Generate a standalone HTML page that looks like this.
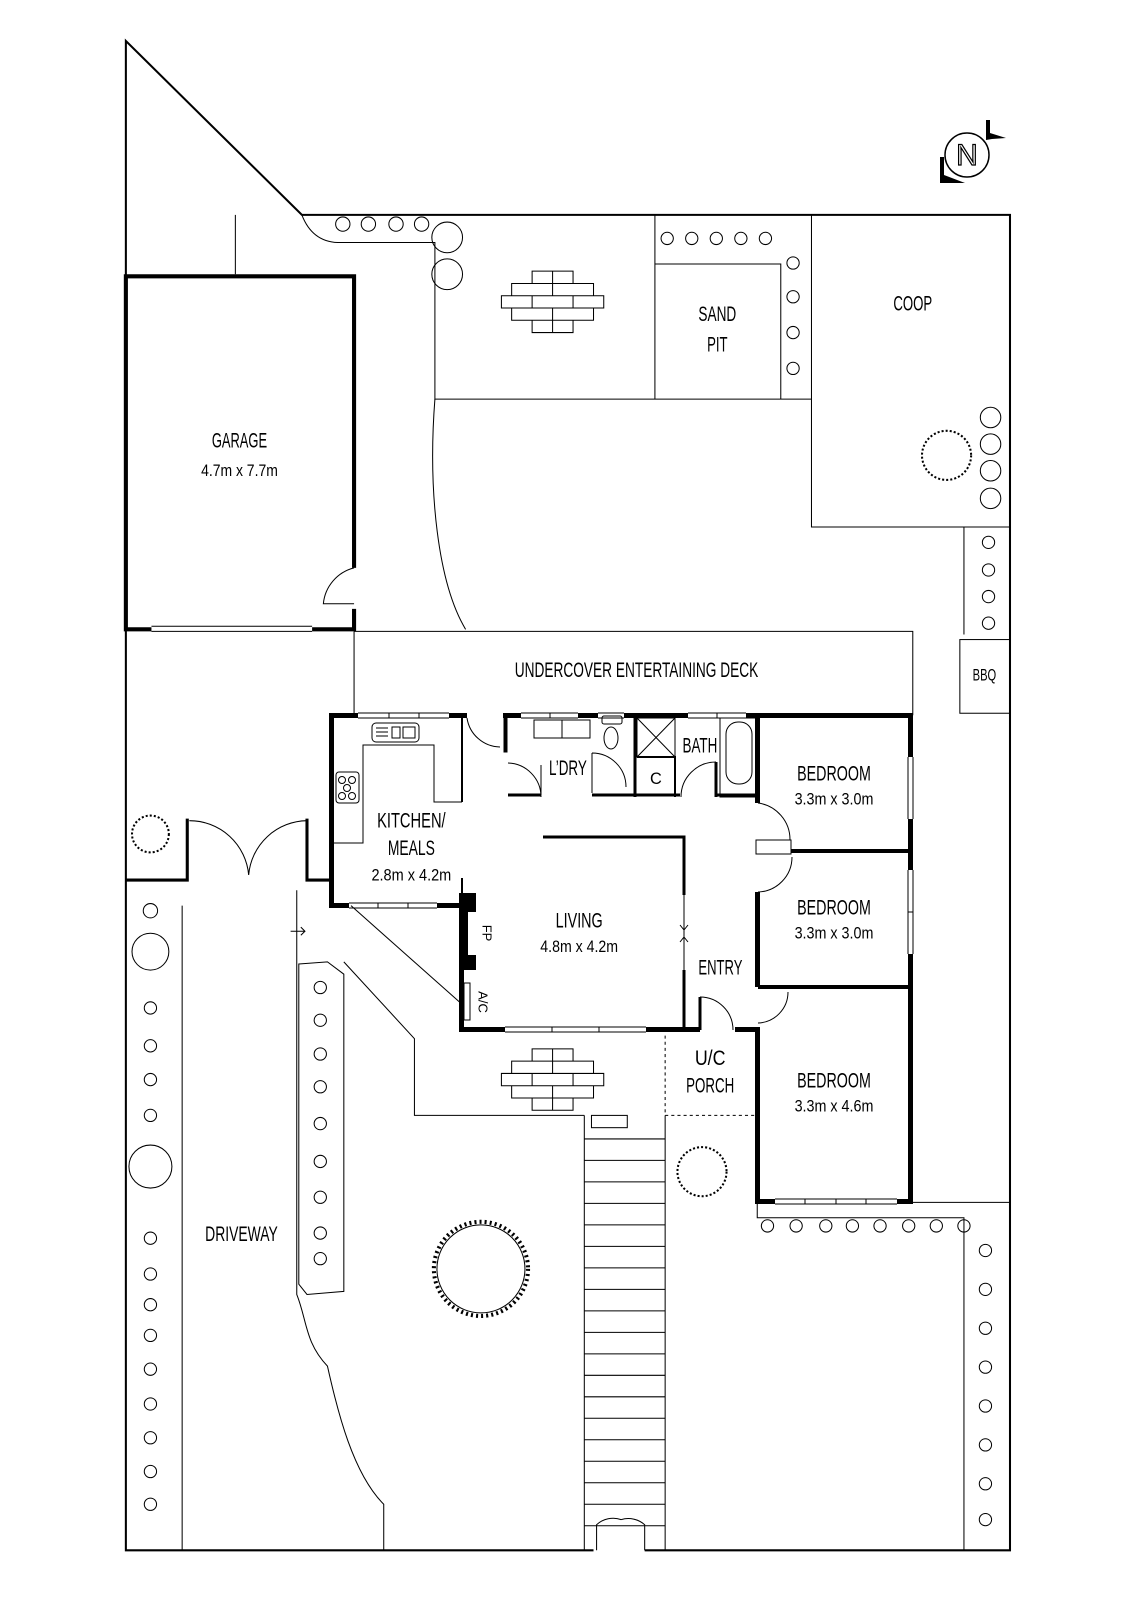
<!DOCTYPE html>
<html><head><meta charset="utf-8"><style>
html,body{margin:0;padding:0;background:#fff}
svg{display:block}
text{font-family:"Liberation Sans Narrow","Liberation Sans",sans-serif;fill:#000;text-anchor:middle;dominant-baseline:middle}
.l{font-size:21px}
.d{font-size:16px}
</style></head><body>
<svg width="1131" height="1600" viewBox="0 0 1131 1600" xmlns="http://www.w3.org/2000/svg">
<rect width="1131" height="1600" fill="#fff"/>
<g transform="scale(1.0233)" fill="none" stroke="#000" stroke-width="1">
<path d="M580,1515 L123,1515 L123,40 L295,210 L987,210 L987,1515 L630,1515" stroke-width="2"/>
<path d="M583,1515 L583,1490 A24,24 0 0 1 607,1485 M630,1515 L630,1490 A24,24 0 0 0 607,1485" />
<path d="M305,615 L346,615 L346,595 M346,555 L346,270 L123,270 L123,615 L148,615" stroke-width="4"/>
<path d="M148,612 L305,612 M148,617 L305,617"/>
<path d="M346,555 A40,40 0 0 0 316,590 L346,590"/>
<path d="M230,210 L230,268"/>
<path d="M295,210 Q305,236 330,237 L425,237 L425,390 L793,390"/>
<path d="M640,210 L640,390 M640,258 L763,258 L763,390"/>
<path d="M793,210 L793,515 L987,515 M942,515 L942,620"/>
<rect x="938" y="625" width="49" height="72"/>
<path d="M425,390 C418,480 428,570 455,615"/>
<path d="M346,617 L892,617 L892,699 M346,617 L346,699"/>
<path d="M123,860 L183,860 L183,800 M300,800 L300,860 L323,860" stroke-width="3"/>
<path d="M185,802 A58,58 0 0 1 243,855 A58,58 0 0 1 300,802"/>
<path d="M178,885 L178,1515"/>
<path d="M290,870 L290,1265 C300,1290 298,1312 320,1335 C330,1380 345,1440 375,1470 L375,1515"/>
<path d="M284,910 L298,910 M294,906 L298,910 L294,914"/>
<path d="M292,942 L320,940 L336,952 L336,1262 L300,1265 L292,1255 Z"/>
<path d="M343,885 L450,980"/>
<path d="M336,940 L405,1015 L405,1090 L571,1090" />
<path d="M650,1012 L650,1090 L740,1090" stroke-dasharray="3,3"/>
<path d="M571,1090 L571,1515 M650,1090 L650,1515"/>
<rect x="578" y="1090" width="35" height="12"/>
<path d="M571,1113 H650 M571,1134 H650 M571,1155 H650 M571,1176 H650 M571,1197 H650 M571,1218 H650 M571,1239 H650 M571,1260 H650 M571,1281 H650 M571,1302 H650 M571,1323 H650 M571,1344 H650 M571,1365 H650 M571,1386 H650 M571,1407 H650 M571,1428 H650 M571,1449 H650 M571,1470 H650 M571,1491 H650"/>
<path d="M740,1175 L740,1190 L942,1190 L942,1515"/>
<path d="M890,1175 L987,1175"/>
<g>
<circle cx="335" cy="219" r="7"/><circle cx="360" cy="219" r="7"/><circle cx="387" cy="219" r="7"/><circle cx="412" cy="219" r="7"/>
<circle cx="437" cy="232" r="15"/><circle cx="437" cy="268" r="15"/>
<circle cx="652" cy="233" r="6"/><circle cx="676" cy="233" r="6"/><circle cx="700" cy="233" r="6"/><circle cx="724" cy="233" r="6"/><circle cx="748" cy="233" r="6"/>
<circle cx="775" cy="257" r="6"/><circle cx="775" cy="290" r="6"/><circle cx="775" cy="325" r="6"/><circle cx="775" cy="360" r="6"/>
<circle cx="968" cy="408" r="10"/><circle cx="968" cy="434" r="10"/><circle cx="968" cy="460" r="10"/><circle cx="968" cy="487" r="10"/>
<circle cx="966" cy="530" r="6"/><circle cx="966" cy="557" r="6"/><circle cx="966" cy="583" r="6"/><circle cx="966" cy="609" r="6"/>
<circle cx="147" cy="890" r="7"/><circle cx="147" cy="930" r="18"/>
<circle cx="147" cy="985" r="6"/><circle cx="147" cy="1022" r="6"/><circle cx="147" cy="1055" r="6"/><circle cx="147" cy="1090" r="6"/>
<circle cx="147" cy="1140" r="21"/>
<circle cx="147" cy="1210" r="6"/><circle cx="147" cy="1245" r="6"/><circle cx="147" cy="1275" r="6"/><circle cx="147" cy="1305" r="6"/><circle cx="147" cy="1338" r="6"/><circle cx="147" cy="1372" r="6"/><circle cx="147" cy="1405" r="6"/><circle cx="147" cy="1438" r="6"/><circle cx="147" cy="1470" r="6"/>
<circle cx="313" cy="965" r="6"/><circle cx="313" cy="997" r="6"/><circle cx="313" cy="1030" r="6"/><circle cx="313" cy="1062" r="6"/><circle cx="313" cy="1098" r="6"/><circle cx="313" cy="1135" r="6"/><circle cx="313" cy="1170" r="6"/><circle cx="313" cy="1205" r="6"/><circle cx="313" cy="1230" r="6"/>
<circle cx="750" cy="1198" r="6"/><circle cx="778" cy="1198" r="6"/><circle cx="807" cy="1198" r="6"/><circle cx="833" cy="1198" r="6"/><circle cx="860" cy="1198" r="6"/><circle cx="888" cy="1198" r="6"/><circle cx="915" cy="1198" r="6"/><circle cx="942" cy="1198" r="6"/>
<circle cx="963" cy="1222" r="6"/><circle cx="963" cy="1260" r="6"/><circle cx="963" cy="1298" r="6"/><circle cx="963" cy="1336" r="6"/><circle cx="963" cy="1374" r="6"/><circle cx="963" cy="1412" r="6"/><circle cx="963" cy="1450" r="6"/><circle cx="963" cy="1485" r="6"/>
</g>
<circle cx="147" cy="815" r="18" stroke-dasharray="2,2" stroke-width="2"/>
<circle cx="925" cy="445" r="24" stroke-dasharray="2,2" stroke-width="2"/>
<circle cx="686" cy="1145" r="24" stroke-dasharray="2,2" stroke-width="2"/>
<circle cx="470" cy="1240" r="46" stroke-dasharray="2,3" stroke-width="4"/>
<circle cx="470" cy="1240" r="43"/>
<g id="br">
<path d="M520,265 H560 V277 H520 Z M500,277 H580 V289 H500 Z M490,289 H590 V301 H490 Z M500,301 H580 V313 H500 Z M520,313 H560 V325 H520 Z M540,277 V289 M520,289 V301 M560,289 V301 M540,301 V313 M540,265 V277 M540,313 V325"/>
</g>
<use href="#br" transform="translate(0,760)"/>
<g stroke="none">
<text class="l" x="234" y="432" textLength="54" lengthAdjust="spacingAndGlyphs">GARAGE</text><text class="d" x="234" y="461" textLength="75" lengthAdjust="spacingAndGlyphs">4.7m x 7.7m</text>
<text class="l" x="701" y="308" textLength="37" lengthAdjust="spacingAndGlyphs">SAND</text><text class="l" x="701" y="338" textLength="20" lengthAdjust="spacingAndGlyphs">PIT</text>
<text class="l" x="892" y="298" textLength="38" lengthAdjust="spacingAndGlyphs">COOP</text>
<text class="l" x="622" y="656" textLength="238" lengthAdjust="spacingAndGlyphs">UNDERCOVER ENTERTAINING DECK</text>
<text class="d" x="962" y="661" textLength="23" lengthAdjust="spacingAndGlyphs">BBQ</text>
<text class="l" x="555" y="752" textLength="37" lengthAdjust="spacingAndGlyphs">L’DRY</text>
<text class="l" x="684" y="730" textLength="34" lengthAdjust="spacingAndGlyphs">BATH</text>
<text class="d" x="641" y="762">C</text>
<text class="l" x="815" y="757" textLength="72" lengthAdjust="spacingAndGlyphs">BEDROOM</text><text class="d" x="815" y="782" textLength="77" lengthAdjust="spacingAndGlyphs">3.3m x 3.0m</text>
<text class="l" x="815" y="888" textLength="72" lengthAdjust="spacingAndGlyphs">BEDROOM</text><text class="d" x="815" y="913" textLength="77" lengthAdjust="spacingAndGlyphs">3.3m x 3.0m</text>
<text class="l" x="815" y="1057" textLength="72" lengthAdjust="spacingAndGlyphs">BEDROOM</text><text class="d" x="815" y="1082" textLength="77" lengthAdjust="spacingAndGlyphs">3.3m x 4.6m</text>
<text class="l" x="402" y="803" textLength="67" lengthAdjust="spacingAndGlyphs">KITCHEN/</text><text class="l" x="402" y="830" textLength="46" lengthAdjust="spacingAndGlyphs">MEALS</text><text class="d" x="402" y="856" textLength="78" lengthAdjust="spacingAndGlyphs">2.8m x 4.2m</text>
<text class="l" x="566" y="901" textLength="46" lengthAdjust="spacingAndGlyphs">LIVING</text><text class="d" x="566" y="926" textLength="76" lengthAdjust="spacingAndGlyphs">4.8m x 4.2m</text>
<text class="l" x="704" y="947" textLength="43" lengthAdjust="spacingAndGlyphs">ENTRY</text>
<text class="l" x="694" y="1035" textLength="30" lengthAdjust="spacingAndGlyphs">U/C</text><text class="l" x="694" y="1062" textLength="47" lengthAdjust="spacingAndGlyphs">PORCH</text>
<text class="l" x="236" y="1207" textLength="71" lengthAdjust="spacingAndGlyphs">DRIVEWAY</text>
</g>
</g>

<g fill="#000" stroke="none">
<rect x="329" y="713" width="29" height="5"/><rect x="449" y="713" width="18" height="5"/>
<rect x="503" y="713" width="18" height="5"/><rect x="578" y="713" width="20" height="5"/>
<rect x="624" y="713" width="64" height="5"/><rect x="746" y="713" width="167" height="5"/>
<rect x="908" y="713" width="5" height="44"/><rect x="908" y="819" width="5" height="51"/><rect x="908" y="954" width="5" height="250"/>
<rect x="756" y="1199" width="19" height="5"/><rect x="897" y="1199" width="16" height="5"/>
<rect x="755" y="1027" width="5" height="177"/>
<rect x="735" y="1027" width="25" height="5"/>
<rect x="459" y="1027" width="46" height="5"/><rect x="646" y="1027" width="54" height="5"/>
<rect x="329" y="713" width="5" height="195"/>
<rect x="329" y="903" width="20" height="5"/><rect x="437" y="903" width="27" height="5"/>
<rect x="459" y="893" width="5" height="139"/>
<rect x="464" y="893" width="12" height="77"/>
<rect x="755" y="713" width="5" height="90"/>
<rect x="755" y="892" width="5" height="95"/>
</g>
<rect x="468" y="912" width="8" height="43" fill="#fff"/>
<g fill="none" stroke="#000" stroke-width="1">
<path d="M358,713 H449 M358,718 H449 M389,713 V718 M419,713 V718"/>
<path d="M521,713 H578 M521,718 H578 M550,713 V718"/>
<path d="M598,713 H624 M598,718 H624"/>
<path d="M688,713 H746 M688,718 H746 M717,713 V718"/>
<path d="M908,757 V819 M913,757 V819 M908,870 V954 M913,870 V954 M908,912 H913"/>
<path d="M775,1199 H897 M775,1204 H897 M805,1199 V1204 M836,1199 V1204 M866,1199 V1204"/>
<path d="M505,1027 H646 M505,1032 H646 M552,1027 V1032 M599,1027 V1032"/>
<path d="M349,903 H437 M349,908 H437 M378,903 V908 M408,903 V908"/>
<rect x="464" y="983" width="6" height="37"/>
<path d="M462,718 V802 M462,878 V903" stroke-width="2"/>
<path d="M467,718 A34,34 0 0 0 500,747"/>
<path d="M334,843 H363 V745 H434 V802 H462"/>
<rect x="372" y="723" width="47" height="19" rx="4"/>
<path d="M376,728 H388 M376,732 H388 M376,736 H388 M392,727 h8 v11 h-8 z M403,727 h12 v11 h-12 z"/>
<rect x="336" y="772" width="23" height="31" rx="3"/>
<circle cx="342" cy="780" r="3.5"/><circle cx="352" cy="780" r="3.5"/><circle cx="347" cy="788" r="3.5"/><circle cx="342" cy="796" r="3.5"/><circle cx="352" cy="796" r="3.5"/>
<rect x="504" y="718" width="3" height="34" fill="#000"/>
<path d="M508,795 H541 M592,795 H637" stroke-width="3"/>
<path d="M508,763 A34,34 0 0 1 541,797 M541,765 V795"/>
<path d="M592,753 V793 M592,753 A34,34 0 0 1 626,787"/>
<path d="M635,718 V797" stroke-width="3"/>
<rect x="534" y="720" width="56" height="18"/><path d="M562,720 V738"/>
<rect x="602" y="716" width="20" height="8" rx="2"/><ellipse cx="611" cy="738" rx="7" ry="11"/>
<rect x="637" y="718" width="38" height="39"/><path d="M637,718 L675,757 M675,718 L637,757"/>
<path d="M637,757 H675 V797" stroke-width="2"/>
<path d="M637,795 H680" stroke-width="3"/>
<path d="M716,762 V797 M716,795 H758" stroke-width="3"/>
<path d="M681,797 A35,35 0 0 1 716,762"/>
<rect x="720" y="718" width="38" height="79"/>
<rect x="726" y="722" width="26" height="62" rx="12"/>
<path d="M758,803 A37,37 0 0 1 790,840"/>
<rect x="756" y="840" width="35" height="14"/>
<path d="M791,851 H911" stroke-width="4"/>
<path d="M792,857 A35,35 0 0 1 758,892"/>
<path d="M758,987 H911" stroke-width="4"/>
<path d="M788,992 A31,31 0 0 1 758,1023"/>
<path d="M543,837 H684 V895 M684,970 V1030" stroke-width="3"/>
<path d="M684,895 V970 M680,925 L684,930 L688,925 M680,942 L684,937 L688,942"/>
<path d="M700,997 V1030" stroke-width="3"/>
<path d="M700,997 A33,33 0 0 1 733,1030"/>
</g>
<g stroke="none">
<text x="486" y="933" transform="rotate(90 486 933)" style="font-size:13px">FP</text>
<text x="482" y="1002" transform="rotate(90 482 1002)" style="font-size:13px">A/C</text>
</g>
<g>
<circle cx="967" cy="155" r="22" fill="none" stroke="#000" stroke-width="1.5"/>
<text x="967" y="157" style="font-size:30px;fill:#fff;stroke:#000;stroke-width:1.2">N</text>
<path d="M986,120 L990,120 L990,133 L1006,138 L992,139 L986,140 Z" fill="#000"/>
<path d="M940,157 L944,157 L944,175 L965,183 L940,183 Z" fill="#000"/>
</g>
</svg>
</body></html>
